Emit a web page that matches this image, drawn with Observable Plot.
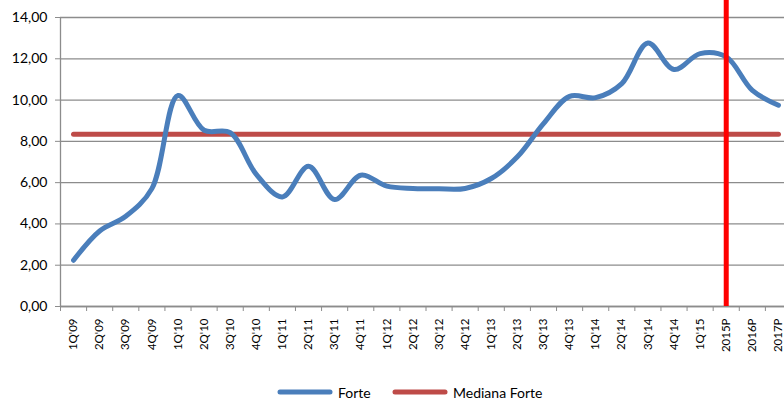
<!DOCTYPE html>
<html>
<head>
<meta charset="utf-8">
<script src="https://cdn.jsdelivr.net/npm/d3@7"></script>
<script src="https://cdn.jsdelivr.net/npm/@observablehq/plot@0.6"></script>
<style>
  html, body { margin: 0; padding: 0; background: #fff; overflow: hidden; width: 784px; height: 400px; }
  #chart svg { display: block; overflow: visible; }
  #legend { position: absolute; left: 0; top: 382px; width: 784px; height: 20px; font-family: Lato, sans-serif; font-size: 14px; color: #000; }
  .item { position: absolute; top: 0; display: flex; align-items: center; height: 20px; }
  .item svg { margin-right: 5px; }
</style>
</head>
<body>
<div id="chart"></div>
<div id="legend"></div>
<script>
const categories = ["1Q'09","2Q'09","3Q'09","4Q'09","1Q'10","2Q'10","3Q'10","4Q'10","1Q'11","2Q'11","3Q'11","4Q'11","1Q'12","2Q'12","3Q'12","4Q'12","1Q'13","2Q'13","3Q'13","4Q'13","1Q'14","2Q'14","3Q'14","4Q'14","1Q'15","2015P","2016P","2017P"];
const forte = [2.24,3.66,4.37,5.71,10.22,8.54,8.42,6.4,5.31,6.79,5.18,6.36,5.83,5.72,5.70,5.72,6.2,7.25,8.86,10.18,10.12,10.8,12.76,11.48,12.25,12.09,10.47,9.75];
const medianaForte = 8.34;
const forecastStart = "2015P";
const yTicks = [0,2,4,6,8,10,12,14];
const seriesNames = ["Forte","Mediana Forte"];
const colors = ["#4A7EBB","#BE4B48"];

const rows = categories.map((c, i) => ({i, cat: c, value: forte[i]}));
const medianRows = categories.map((c, i) => ({i, value: medianaForte}));
const bounds = d3.range(categories.length + 1).map(k => k - 0.5);
const forecastIdx = categories.indexOf(forecastStart);
const fmt = d => d.toFixed(2).replace(".", ",");

const chart = Plot.plot({
  width: 784,
  height: 370,
  marginTop: 17,
  marginBottom: 64,
  marginLeft: 60,
  marginRight: 0,
  style: {fontFamily: "Lato, sans-serif", background: "#fff", color: "#000"},
  x: {type: "linear", domain: [-0.5, categories.length - 0.5], range: [60, 791]},
  y: {domain: [0, 14]},
  marks: [
    Plot.gridY(yTicks, {stroke: "#8c8c8c", strokeOpacity: 1, strokeWidth: 1.3}),
    Plot.axisY(yTicks, {tickFormat: fmt, tickSize: 5, tickPadding: 8, stroke: "#8c8c8c", fontSize: 14, fill: "#000", label: null}),
    Plot.axisX(bounds, {tickSize: 5, tickFormat: () => "", stroke: "#8c8c8c", label: null}),
    Plot.axisX(categories.map((c, i) => i), {tickSize: 0, tickPadding: 12, tickRotate: -90, tickFormat: i => categories[i], fontSize: 11.5, fill: "#000", label: null}),
    Plot.ruleX([-0.5], {stroke: "#8c8c8c", strokeWidth: 1.3}),
    Plot.ruleY([0], {stroke: "#8c8c8c", strokeWidth: 1.3}),
    Plot.line(medianRows, {x: "i", y: "value", stroke: colors[1], strokeWidth: 5, strokeLinecap: "round"}),
    Plot.line(rows, {x: "i", y: "value", stroke: colors[0], strokeWidth: 5, curve: "catmull-rom", strokeLinecap: "round", strokeLinejoin: "round"}),
    Plot.ruleX([forecastIdx], {y1: 0, y2: 14.85, stroke: "#FF0000", strokeWidth: 5})
  ]
});
document.getElementById("chart").appendChild(chart);

const legend = document.getElementById("legend");
const lefts = [277, 392];
seriesNames.forEach((name, k) => {
  const item = document.createElement("div");
  item.className = "item";
  item.style.left = lefts[k] + "px";
  item.innerHTML = `<svg width="56" height="8"><line x1="3" y1="4" x2="53" y2="4" stroke="${colors[k]}" stroke-width="5" stroke-linecap="round"/></svg><span>${name}</span>`;
  legend.appendChild(item);
});
</script>
</body>
</html>
